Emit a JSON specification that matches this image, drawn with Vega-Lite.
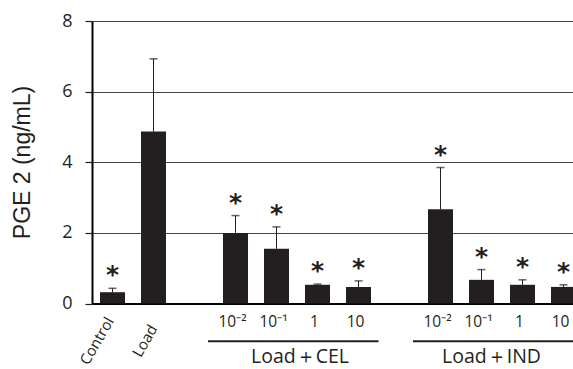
{
  "$schema": "https://vega.github.io/schema/vega-lite/v6.json",
  "width": 481,
  "height": 282.5,
  "autosize": {"type": "none"},
  "padding": {"left": 92, "top": 21, "right": 0, "bottom": 65.5},
  "background": "white",
  "config": {"view": {"stroke": null}},
  "datasets": {
    "bars": [
      {"cond": "Control", "dose": "Control", "mean": 0.32, "err": 0.43, "sig": true},
      {"cond": "Load", "dose": "Load", "mean": 4.87, "err": 6.93, "sig": false},
      {"cond": "CEL 10⁻²", "dose": "10⁻²", "mean": 2.0, "err": 2.49, "sig": true},
      {"cond": "CEL 10⁻¹", "dose": "10⁻¹", "mean": 1.55, "err": 2.17, "sig": true},
      {"cond": "CEL 1", "dose": "1", "mean": 0.53, "err": 0.55, "sig": true},
      {"cond": "CEL 10", "dose": "10", "mean": 0.47, "err": 0.64, "sig": true},
      {"cond": "IND 10⁻²", "dose": "10⁻²", "mean": 2.67, "err": 3.85, "sig": true},
      {"cond": "IND 10⁻¹", "dose": "10⁻¹", "mean": 0.67, "err": 0.96, "sig": true},
      {"cond": "IND 1", "dose": "1", "mean": 0.53, "err": 0.67, "sig": true},
      {"cond": "IND 10", "dose": "10", "mean": 0.47, "err": 0.53, "sig": true}
    ],
    "groups": [
      {"group": "Load＋CEL", "from": "CEL 10⁻²", "to": "CEL 10"},
      {"group": "Load＋IND", "from": "IND 10⁻²", "to": "IND 10"}
    ]
  },
  "layer": [
    {
      "data": {"name": "bars"},
      "mark": {"type": "bar", "color": "#231f20"},
      "encoding": {
        "x": {"field": "cond", "type": "nominal", "sort": null,
          "scale": {"domain": ["Control", "Load", "gap1", "CEL 10⁻²", "CEL 10⁻¹", "CEL 1", "CEL 10", "gap2", "IND 10⁻²", "IND 10⁻¹", "IND 1", "IND 10"], "range": [0, 492], "paddingInner": 0.39, "paddingOuter": 0.195},
          "axis": {"labels": false, "ticks": false, "title": null, "domainColor": "#000000", "domainWidth": 2}},
        "y": {"field": "mean", "type": "quantitative",
          "scale": {"domain": [0, 8]},
          "axis": {"values": [0, 2, 4, 6, 8], "tickSize": 7, "tickColor": "#231f20", "tickWidth": 1.2,
            "labelFont": "Open Sans", "labelFontSize": 18, "labelColor": "#231f20", "labelPadding": 13,
            "gridColor": "#444444", "gridWidth": 1, "domainColor": "#000000", "domainWidth": 2,
            "title": "PGE 2 (ng/mL)", "titleFont": "Liberation Sans", "titleFontSize": 23, "titleFontWeight": "normal",
            "titleColor": "#231f20", "titleX": -70, "titleY": 141, "titleBaseline": "middle", "titleAlign": "center", "titleAngle": -90}}
      }
    },
    {
      "data": {"name": "bars"},
      "mark": {"type": "rule", "color": "#231f20", "strokeWidth": 1},
      "encoding": {
        "x": {"field": "cond", "type": "nominal"},
        "y": {"field": "mean", "type": "quantitative"},
        "y2": {"field": "err"}
      }
    },
    {
      "data": {"name": "bars"},
      "mark": {"type": "tick", "orient": "horizontal", "color": "#231f20", "size": 8, "thickness": 1.5},
      "encoding": {
        "x": {"field": "cond", "type": "nominal"},
        "y": {"field": "err", "type": "quantitative"}
      }
    },
    {
      "data": {"name": "bars"},
      "transform": [{"filter": "datum.sig"}],
      "mark": {"type": "text", "text": "*", "font": "DejaVu Sans", "fontWeight": "bold", "fontSize": 25, "color": "#231f20", "baseline": "alphabetic", "dy": -5},
      "encoding": {
        "x": {"field": "cond", "type": "nominal"},
        "y": {"field": "err", "type": "quantitative"}
      }
    },
    {
      "data": {"name": "bars"},
      "transform": [{"filter": "datum.cond != 'Control' && datum.cond != 'Load'"}],
      "mark": {"type": "text", "font": "Open Sans", "fontSize": 15.5, "color": "#231f20", "baseline": "alphabetic", "dx": -3},
      "encoding": {
        "x": {"field": "cond", "type": "nominal"},
        "y": {"datum": -0.657, "type": "quantitative"},
        "text": {"field": "dose"}
      }
    },
    {
      "data": {"name": "bars"},
      "transform": [{"filter": "datum.cond == 'Control'"}],
      "mark": {"type": "text", "font": "Open Sans", "fontSize": 15, "color": "#231f20", "baseline": "middle", "align": "center", "angle": 300},
      "encoding": {
        "x": {"field": "cond", "type": "nominal", "bandPosition": -0.12},
        "y": {"datum": -1.06, "type": "quantitative"},
        "text": {"field": "dose"}
      }
    },
    {
      "data": {"name": "bars"},
      "transform": [{"filter": "datum.cond == 'Load'"}],
      "mark": {"type": "text", "font": "Open Sans", "fontSize": 15, "color": "#231f20", "baseline": "middle", "align": "center", "angle": 300},
      "encoding": {
        "x": {"field": "cond", "type": "nominal", "bandPosition": 0.16},
        "y": {"datum": -1.06, "type": "quantitative"},
        "text": {"field": "dose"}
      }
    },
    {
      "data": {"name": "groups"},
      "mark": {"type": "rule", "color": "#231f20", "strokeWidth": 2},
      "encoding": {
        "x": {"field": "from", "type": "nominal", "bandPosition": -0.6},
        "x2": {"field": "to", "bandPosition": 1.3},
        "y": {"datum": -1.07, "type": "quantitative"}
      }
    },
    {
      "data": {"name": "groups"},
      "transform": [{"filter": "datum.group == 'Load＋CEL'"}],
      "mark": {"type": "text", "font": "Open Sans", "fontSize": 19.5, "color": "#231f20", "baseline": "alphabetic", "align": "center"},
      "encoding": {
        "x": {"datum": "CEL 10⁻¹", "type": "nominal", "bandPosition": 1.44},
        "y": {"datum": -1.68, "type": "quantitative"},
        "text": {"field": "group"}
      }
    },
    {
      "data": {"name": "groups"},
      "transform": [{"filter": "datum.group == 'Load＋IND'"}],
      "mark": {"type": "text", "font": "Open Sans", "fontSize": 19.5, "color": "#231f20", "baseline": "alphabetic", "align": "center"},
      "encoding": {
        "x": {"datum": "IND 10⁻¹", "type": "nominal", "bandPosition": 0.9},
        "y": {"datum": -1.68, "type": "quantitative"},
        "text": {"field": "group"}
      }
    }
  ]
}
